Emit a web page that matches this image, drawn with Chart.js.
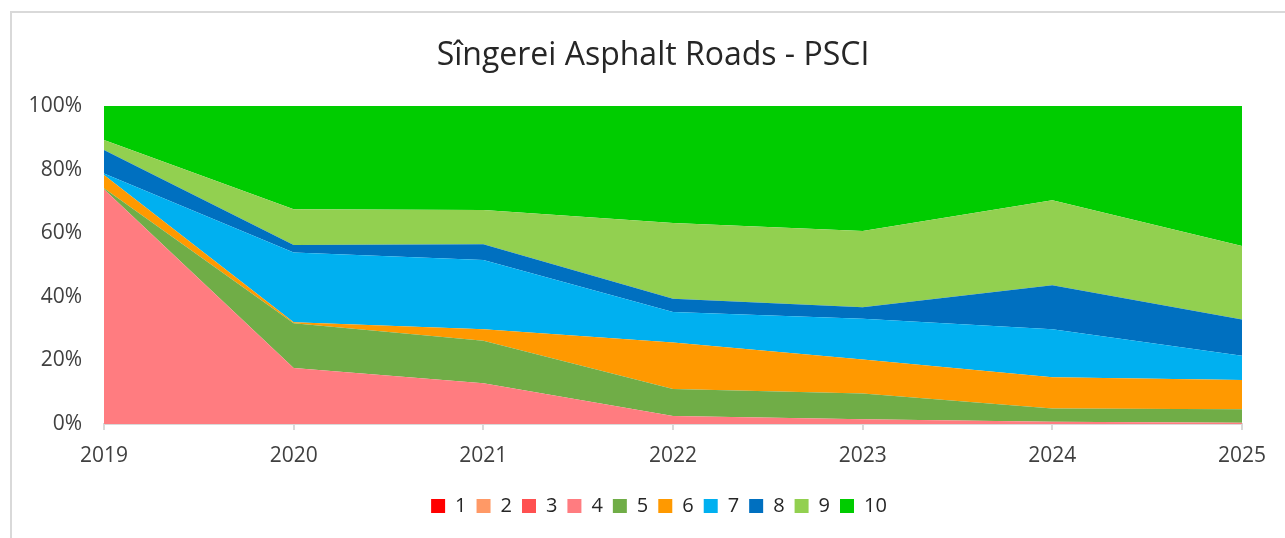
<!DOCTYPE html>
<html>
<head>
<meta charset="utf-8">
<script src="https://cdn.jsdelivr.net/npm/chart.js@4.4.1/dist/chart.umd.min.js"></script>
<style>
    html, body { margin: 0; padding: 0; background: #fff; }
    #wrap { position: relative; width: 1285px; height: 538px; overflow: hidden; }
    #frame { position: absolute; left: 10px; top: 11px; width: 1300px; height: 560px; border: 2px solid #d9d9d9; pointer-events: none; }
</style>
</head>
<body>
<div id="wrap">
    <canvas id="grafico" width="1285" height="538"></canvas>
    <div id="frame"></div>
</div>
<script>
// años y clases PSCI
const anios = ['2019', '2020', '2021', '2022', '2023', '2024', '2025'];
const clases = ['1', '2', '3', '4', '5', '6', '7', '8', '9', '10'];
const colores = ['#ff0000', '#ff9966', '#ff5050', '#ff7c80', '#70ad47', '#ff9900', '#00b0f0', '#0070c0', '#92d050', '#00cc00'];

// porcentaje de la red en cada clase
const psci1  = [0, 0, 0, 0, 0, 0, 0];
const psci2  = [0, 0, 0, 0, 0, 0, 0];
const psci3  = [0, 0, 0, 0, 0, 0, 0];
const psci4  = [73.8, 17.6, 12.8, 2.5, 1.5, 0.7, 0.4];
const psci5  = [0.3, 14.1, 13.4, 8.5, 8.1, 4.2, 4.2];
const psci6  = [4.2, 0.3, 3.6, 14.6, 10.7, 9.8, 9.2];
const psci7  = [0.5, 21.9, 21.8, 9.6, 12.8, 15.1, 7.7];
const psci8  = [7.4, 2.4, 4.9, 4.2, 3.6, 13.8, 11.4];
const psci9  = [3.1, 11.2, 10.8, 23.8, 24.0, 26.8, 23.1];
const psci10 = [10.7, 32.5, 32.7, 36.8, 39.3, 29.6, 44.0];

const series = [psci1, psci2, psci3, psci4, psci5, psci6, psci7, psci8, psci9, psci10];

const fuente = "'Open Sans', sans-serif";
const padIzq = 20;
const padAbajo = 12;

const datasets = series.map((valores, i) => {
    return {
        label: clases[i],
        data: valores,
        backgroundColor: colores[i],
        borderColor: colores[i],
        borderWidth: 0,
        pointRadius: 0,
        pointHoverRadius: 0,
        tension: 0,
        fill: i === 0 ? 'origin' : '-1'
    };
});

// el título y la leyenda de Excel van centrados sobre el área del gráfico
const centrar = {
    id: 'centrar',
    afterLayout: (chart) => {
        const area = chart.chartArea;
        const mover = (caja, centro) => {
            const dx = centro - (caja.left + caja.right) / 2;
            caja.left += dx;
            caja.right += dx;
        };
        mover(chart.titleBlock, (area.left + area.right) / 2 - 20);
        mover(chart.legend, (area.left + area.right) / 2 - 14);
    }
};

const ctx = document.getElementById('grafico').getContext('2d');
const chart = new Chart(ctx, {
    type: 'line',
    data: {
        labels: anios,
        datasets: datasets
    },
    plugins: [centrar],
    options: {
        responsive: false,
        animation: false,
        layout: { padding: { left: padIzq, right: 43, top: 0, bottom: padAbajo } },
        scales: {
            x: {
                offset: false,
                grid: { display: true, drawOnChartArea: false, color: '#d9d9d9', tickLength: 6, lineWidth: 2 },
                border: { display: true, color: '#d9d9d9', width: 2 },
                ticks: { color: '#404040', padding: 13, maxRotation: 0, font: { family: fuente, size: 21 } },
                afterFit: (scale) => {
                    scale.height = 114 - padAbajo - scale.chart.legend.height;
                }
            },
            y: {
                stacked: true,
                min: 0,
                max: 100,
                grid: { display: false },
                border: { display: false },
                ticks: {
                    stepSize: 20,
                    color: '#404040',
                    padding: 14,
                    font: { family: fuente, size: 21 },
                    callback: (v) => v + '%'
                },
                afterFit: (scale) => {
                    scale.width = 104 - padIzq;
                }
            }
        },
        plugins: {
            title: {
                display: true,
                text: 'Sîngerei Asphalt Roads - PSCI',
                color: '#262626',
                font: { family: fuente, size: 32, weight: 'normal' },
                padding: { top: 37, bottom: 30.6 }
            },
            legend: {
                position: 'bottom',
                labels: {
                    color: '#262626',
                    boxWidth: 14,
                    boxHeight: 14,
                    padding: 10,
                    font: { family: fuente, size: 20 }
                }
            },
            tooltip: { enabled: false }
        }
    }
});
</script>
</body>
</html>
